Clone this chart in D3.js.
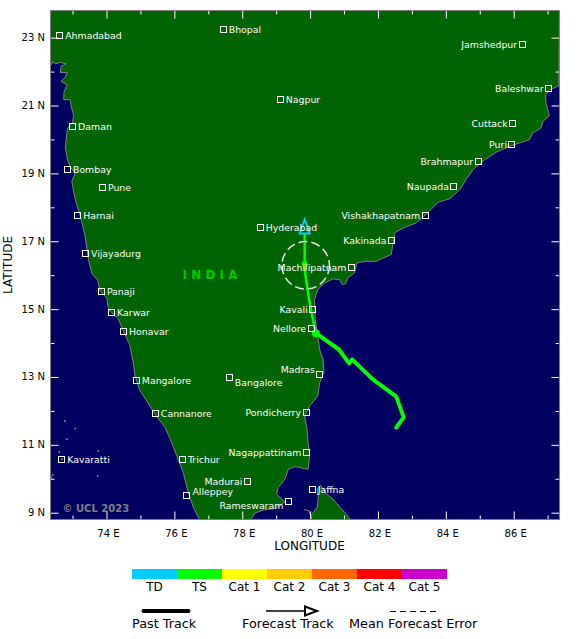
<!DOCTYPE html>
<html>
<head>
<meta charset="utf-8">
<script src="https://cdn.jsdelivr.net/npm/d3@7"></script>
<style>
  body { margin: 0; background: #fff; }
  text { font-family: "DejaVu Sans", sans-serif; }
</style>
</head>
<body>
<div class="chart"></div>
<script>
const lonRange = [72.35, 87.35];
const latRange = [8.8, 23.8];
const lonTicks = [74, 76, 78, 80, 82, 84, 86];
const lonMinor = [73, 75, 77, 79, 81, 83, 85, 87];
const latTicks = [9, 11, 13, 15, 17, 19, 21, 23];
const latMinor = [10, 12, 14, 16, 18, 20, 22];

// coastline, lon/lat, NW corner round to the NE corner
const indiaCoast = [
  [72.35,23.8],[72.34,22.15],[72.42,22.29],[72.49,22.23],[72.64,22.27],[72.81,22.23],[72.66,22.15],[72.64,21.97],
  [72.85,21.97],[72.78,21.83],[72.66,21.71],[72.85,21.61],[72.75,21.41],[72.74,21.17],[72.93,21.17],[72.96,20.98],
  [73.03,20.73],[73.00,20.48],[72.85,20.33],[72.81,19.99],[72.79,19.75],[72.85,19.40],[72.95,19.16],[73.08,19.03],
  [72.98,18.76],[73.03,18.47],[73.08,18.23],[73.23,17.74],[73.37,17.15],[73.42,16.80],[73.47,16.46],[73.57,16.05],
  [73.74,15.85],[73.81,15.53],[74.01,15.33],[74.06,14.99],[74.35,14.71],[74.50,14.35],[74.68,13.96],[74.79,13.42],
  [74.84,13.03],[74.99,12.59],[75.19,12.29],[75.43,11.90],[75.73,11.51],[75.92,11.07],[76.07,10.68],[76.26,10.19],
  [76.41,9.60],[76.56,9.16],[76.74,8.80],[78.25,8.80],[78.38,8.99],[78.62,9.08],[79.01,9.13],[79.26,9.32],
  [79.01,9.55],[79.06,9.74],[79.26,9.99],[79.36,10.28],[79.55,10.36],[79.94,10.28],[79.99,10.68],[79.94,11.07],
  [79.91,11.46],[79.84,11.85],[79.99,12.15],[80.23,12.44],[80.28,12.83],[80.41,13.13],[80.38,13.52],[80.28,13.81],
  [80.23,14.20],[80.15,14.69],[80.13,15.28],[80.23,15.58],[80.43,15.77],[80.67,15.89],[80.87,15.87],[80.95,15.72],
  [81.05,15.75],[81.11,15.92],[81.31,16.07],[81.38,16.36],[81.65,16.41],[81.95,16.41],[82.39,16.61],[82.44,16.90],
  [82.49,17.25],[82.74,17.39],[83.13,17.54],[83.47,17.84],[83.77,18.15],[84.11,18.25],[84.41,18.52],[84.60,18.82],
  [84.80,19.11],[85.14,19.40],[85.48,19.62],[85.88,19.80],[86.46,19.99],[86.56,20.19],[86.81,20.34],[86.86,20.53],
  [87.05,20.70],[86.95,21.07],[86.94,21.32],[87.05,21.46],[87.33,21.58],[87.35,23.8]
];
const sriLanka = [
  [80.04,8.80],[80.04,8.93],[80.21,9.16],[80.24,9.45],[80.21,9.70],[80.31,9.81],[80.48,9.55],[80.68,9.40],
  [80.88,9.16],[81.02,9.01],[81.19,8.80]
];
const mannar = [[79.82,9.09],[79.97,9.06],[79.99,8.95]];
const islands = [
  [72.78,11.70],[73.08,11.48],[72.83,11.17],[72.61,10.79],[73.76,10.82],[72.69,10.58],[72.42,10.11],[72.37,10.04],[73.74,10.09]
];

const cityNames = ["Ahmadabad","Bhopal","Nagpur","Daman","Bombay","Pune","Harnai","Vijayadurg","Hyderabad","Panaji","Karwar","Honavar","Mangalore","Bangalore","Cannanore","Kavaratti","Trichur","Alleppey","Jaffna",
  "Jamshedpur","Baleshwar","Cuttack","Puri","Brahmapur","Naupada","Vishakhapatnam","Kakinada","Machilipatnam","Kavali","Nellore","Madras","Pondicherry","Nagappattinam","Madurai","Rameswaram"];
const cityLons = [72.62,77.44,79.12,73.00,72.85,73.88,73.15,73.38,78.53,73.85,74.15,74.50,74.88,77.62,75.44,72.68,76.24,76.37,80.06,
  86.25,87.03,85.97,85.95,84.95,84.24,83.39,82.40,81.22,80.08,80.03,80.29,79.88,79.89,78.15,79.36];
const cityLats = [23.07,23.25,21.19,20.37,19.10,18.57,17.77,16.63,17.41,15.51,14.89,14.34,12.89,12.98,11.92,10.57,10.57,9.51,9.69,
  22.81,21.51,20.47,19.86,19.36,18.62,17.77,17.02,16.22,14.99,14.42,13.06,11.94,10.76,9.92,9.33];
const leftLabelled = ["Jamshedpur","Baleshwar","Cuttack","Puri","Brahmapur","Naupada","Vishakhapatnam","Kakinada","Machilipatnam","Kavali","Nellore","Madras","Pondicherry","Nagappattinam","Madurai","Rameswaram"];

const pastTrack = [[82.54,11.51],[82.76,11.81],[82.54,12.42],[81.85,12.93],[81.24,13.52],[81.15,13.40],[80.85,13.81],[80.17,14.29]];
const forecastTrack = [[80.17,14.29],[79.94,15.48],[79.84,16.33],[79.84,17.23]];
const forecastHead = [[79.84,17.64],[79.69,17.23],[79.99,17.23]];
const errorCentre = [79.87,16.29];
const errorRadius = 0.70;

const categories = ["TD","TS","Cat 1","Cat 2","Cat 3","Cat 4","Cat 5"];
const categoryColors = ["#00ccff","#00ff00","#ffff00","#ffcc00","#ff6600","#ff0000","#cc00cc"];

const margin = ({top: 10.5, left: 50.5});
const mapSize = 509;

const svg = d3.select('.chart')
    .append('svg')
    .attr('width', 580)
    .attr('height', 639)
    .style('display', 'block');

const xScale = d3.scaleLinear().domain(lonRange).range([margin.left, margin.left + mapSize]);
const yScale = d3.scaleLinear().domain(latRange).range([margin.top + mapSize, margin.top]);
const line = d3.line().x(d => xScale(d[0])).y(d => yScale(d[1]));

svg.append('clipPath').attr('id', 'map-clip')
    .append('rect')
    .attr('x', margin.left).attr('y', margin.top)
    .attr('width', mapSize).attr('height', mapSize);

// sea
svg.append('rect')
    .attr('x', margin.left).attr('y', margin.top)
    .attr('width', mapSize).attr('height', mapSize)
    .attr('fill', '#000060');

const map = svg.append('g').attr('clip-path', 'url(#map-clip)');

// land
[indiaCoast, sriLanka].forEach(shape => {
    map.append('path')
        .attr('d', line(shape) + 'Z')
        .attr('fill', '#006400')
        .attr('stroke', '#808080')
        .attr('stroke-width', 1);
});
map.append('path')
    .attr('d', line(mannar))
    .attr('fill', 'none')
    .attr('stroke', '#808080');

map.selectAll('.island')
    .data(islands)
    .enter()
    .append('circle')
        .attr('class', 'island')
        .attr('cx', d => xScale(d[0]))
        .attr('cy', d => yScale(d[1]))
        .attr('r', 1)
        .attr('fill', '#808080');

// axes, long ticks and short ticks on all four sides
function drawAxis(axis, tx, ty, ticks, size, fmt) {
    const g = svg.append('g')
        .attr('transform', `translate(${tx},${ty})`)
        .call(axis.tickValues(ticks).tickSize(size).tickFormat(fmt || ''));
    g.select('.domain').remove();
    g.selectAll('line').attr('stroke', '#fff');
    return g;
}
const bottom = margin.top + mapSize;
const right = margin.left + mapSize;
const labelFont = "10px 'DejaVu Sans'";

drawAxis(d3.axisTop(xScale), 0, bottom, lonTicks, 8);
drawAxis(d3.axisTop(xScale), 0, bottom, lonMinor, 4);
drawAxis(d3.axisBottom(xScale), 0, margin.top, lonTicks, 8);
drawAxis(d3.axisBottom(xScale), 0, margin.top, lonMinor, 4);
drawAxis(d3.axisRight(yScale), margin.left, 0, latTicks, 8);
drawAxis(d3.axisRight(yScale), margin.left, 0, latMinor, 4);
drawAxis(d3.axisLeft(yScale), right, 0, latTicks, 8);
drawAxis(d3.axisLeft(yScale), right, 0, latMinor, 4);

svg.append('rect')
    .attr('x', margin.left).attr('y', margin.top)
    .attr('width', mapSize).attr('height', mapSize)
    .attr('fill', 'none')
    .attr('stroke', '#808080');

svg.selectAll('.lon-label')
    .data(lonTicks)
    .enter()
    .append('text')
        .attr('class', 'lon-label')
        .attr('x', d => xScale(d) + 2)
        .attr('y', bottom + 17)
        .attr('text-anchor', 'middle')
        .style('font', labelFont)
        .attr('fill', '#000')
        .text(d => d + ' E');

svg.selectAll('.lat-label')
    .data(latTicks)
    .enter()
    .append('text')
        .attr('class', 'lat-label')
        .attr('x', 45)
        .attr('y', d => yScale(d) + 3.5)
        .attr('text-anchor', 'end')
        .style('font', labelFont)
        .attr('fill', '#000')
        .text(d => d + ' N');

svg.append('text')
    .attr('x', 309.5).attr('y', 550)
    .attr('text-anchor', 'middle')
    .style('font-size', '12px')
    .text('LONGITUDE');

svg.append('text')
    .attr('transform', 'translate(12,265) rotate(-90)')
    .attr('text-anchor', 'middle')
    .style('font-size', '12px')
    .text('LATITUDE');

// track
map.append('path')
    .attr('d', line(pastTrack))
    .attr('fill', 'none')
    .attr('stroke', '#00ff00')
    .attr('stroke-width', 4)
    .attr('stroke-linecap', 'round')
    .attr('stroke-linejoin', 'round');

map.append('path')
    .attr('d', d3.line().x(d => xScale(d[0])).y(d => yScale(d[1])).curve(d3.curveMonotoneY)(forecastTrack))
    .attr('fill', 'none')
    .attr('stroke', '#00ff00')
    .attr('stroke-width', 2.5);

map.append('path')
    .attr('d', line(forecastHead) + 'Z')
    .attr('fill', 'none')
    .attr('stroke', '#00ccff')
    .attr('stroke-width', 2);

map.append('circle')
    .attr('cx', xScale(pastTrack[pastTrack.length - 1][0]))
    .attr('cy', yScale(pastTrack[pastTrack.length - 1][1]))
    .attr('r', 4)
    .attr('fill', '#00ff00');

map.append('circle')
    .attr('cx', xScale(forecastTrack[2][0]))
    .attr('cy', yScale(forecastTrack[2][1]))
    .attr('r', 3)
    .attr('fill', '#00ff00');

map.append('circle')
    .attr('cx', xScale(errorCentre[0]))
    .attr('cy', yScale(errorCentre[1]))
    .attr('r', xScale(errorCentre[0] + errorRadius) - xScale(errorCentre[0]))
    .attr('fill', 'none')
    .attr('stroke', '#e8e8e8')
    .attr('stroke-width', 1.5)
    .attr('stroke-dasharray', '9,4');

// cities
const cities = cityNames.map((name, i) => ({name, lon: cityLons[i], lat: cityLats[i]}));

// a few labels sit above or below their box instead of level with it
function labelDy(name) {
    if (name === 'Bangalore') return 8.5;
    if (name === 'Rameswaram') return 7;
    if (name === 'Madras') return -1.5;
    if (name === 'Alleppey') return 0;
    return 3.5;
}

map.selectAll('.city-box')
    .data(cities)
    .enter()
    .append('rect')
        .attr('class', 'city-box')
        .attr('x', d => xScale(d.lon) - 3)
        .attr('y', d => yScale(d.lat) - 3)
        .attr('width', 6)
        .attr('height', 6)
        .attr('fill', 'none')
        .attr('stroke', '#fff')
        .attr('stroke-width', 1)
        .style('shape-rendering', 'crispEdges');

map.selectAll('.city-label')
    .data(cities)
    .enter()
    .append('text')
        .attr('class', 'city-label')
        .attr('x', d => xScale(d.lon) + (leftLabelled.includes(d.name) ? -5 : 5.5))
        .attr('y', d => yScale(d.lat) + labelDy(d.name))
        .attr('text-anchor', d => leftLabelled.includes(d.name) ? 'end' : 'start')
        .attr('fill', '#fff')
        .style('font-size', '9.4px')
        .text(d => d.name);

map.append('text')
    .attr('x', 210).attr('y', 279)
    .attr('text-anchor', 'middle')
    .attr('fill', '#00c800')
    .style('font-size', '12px')
    .style('font-weight', 'bold')
    .text('I N D I A');

map.append('text')
    .attr('x', 62.5).attr('y', 512)
    .attr('fill', '#808080')
    .style('font-size', '10px')
    .style('font-weight', 'bold')
    .text('© UCL 2023');

// colour bar
const barScale = d3.scaleBand().domain(categories).range([132, 447]);

svg.selectAll('.cat-bar')
    .data(categories)
    .enter()
    .append('rect')
        .attr('class', 'cat-bar')
        .attr('x', d => barScale(d))
        .attr('y', 569)
        .attr('width', barScale.bandwidth())
        .attr('height', 10)
        .attr('fill', (d, i) => categoryColors[i]);

svg.selectAll('.cat-label')
    .data(categories)
    .enter()
    .append('text')
        .attr('class', 'cat-label')
        .attr('x', d => barScale(d) + barScale.bandwidth() / 2)
        .attr('y', 591)
        .attr('text-anchor', 'middle')
        .style('font-size', '12px')
        .text(d => d);

// track key
svg.append('line')
    .attr('x1', 143.5).attr('x2', 188.5).attr('y1', 611).attr('y2', 611)
    .attr('stroke', '#000').attr('stroke-width', 4).attr('stroke-linecap', 'round');
svg.append('text').attr('x', 132).attr('y', 628).style('font-size', '12.8px').text('Past Track');

svg.append('line')
    .attr('x1', 266).attr('x2', 305).attr('y1', 611).attr('y2', 611)
    .attr('stroke', '#000').attr('stroke-width', 1.5);
svg.append('path')
    .attr('d', 'M305,606.5L317,611L305,615.5Z')
    .attr('fill', '#fff').attr('stroke', '#000').attr('stroke-width', 2);
svg.append('text').attr('x', 242).attr('y', 628).style('font-size', '12.8px').text('Forecast Track');

svg.append('line')
    .attr('x1', 390).attr('x2', 436).attr('y1', 611.5).attr('y2', 611.5)
    .attr('stroke', '#000').attr('stroke-width', 1).attr('stroke-dasharray', '6,4');
svg.append('text').attr('x', 349).attr('y', 628).style('font-size', '12.8px').text('Mean Forecast Error');
</script>
</body>
</html>
